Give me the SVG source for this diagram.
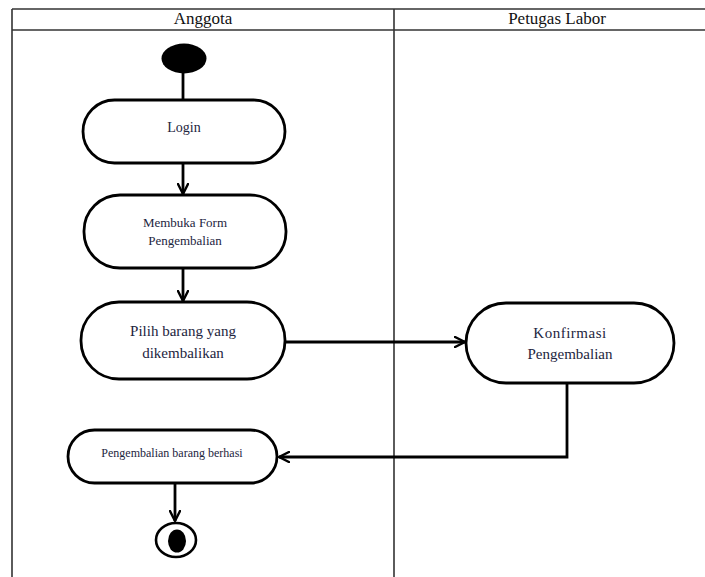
<svg xmlns="http://www.w3.org/2000/svg" width="705" height="577" viewBox="0 0 705 577">
  <defs>
    <marker id="open-arrow" viewBox="0 0 12 12" refX="11" refY="6" markerWidth="12" markerHeight="12" markerUnits="userSpaceOnUse" orient="auto">
      <path d="M1,1 L11,6 L1,11" fill="none" stroke="#000" stroke-width="2.4" stroke-linecap="round" stroke-linejoin="round"/>
    </marker>
  </defs>
  <style>
    .frame { stroke: #333; stroke-width: 1.6; fill: none; }
    .lane-title { font-family: "Liberation Serif", "Times New Roman", serif; font-size: 17px; fill: #111; text-anchor: middle; }
    .action { fill: #fff; stroke: #000; stroke-width: 2.8; }
    .label { font-family: "Liberation Serif", "Times New Roman", serif; fill: #1d2540; text-anchor: middle; }
    .flow { fill: none; stroke: #000; stroke-width: 2.8; }
  </style>

  <rect width="705" height="577" fill="#fff"/>

  <!-- swimlane frame -->
  <g id="swimlanes">
    <line class="frame" x1="12" y1="9" x2="705" y2="9"/>
    <line class="frame" x1="12" y1="30" x2="705" y2="30"/>
    <line class="frame" x1="12" y1="9" x2="12" y2="577"/>
    <line class="frame" x1="394" y1="9" x2="394" y2="577"/>
    <text class="lane-title" x="203" y="24">Anggota</text>
    <text class="lane-title" x="557" y="24">Petugas Labor</text>
  </g>

  <!-- control flow -->
  <g id="connectors">
    <line class="flow" x1="183" y1="72" x2="183" y2="100"/>
    <line class="flow" x1="183" y1="164" x2="183" y2="194" marker-end="url(#open-arrow)"/>
    <line class="flow" x1="183" y1="269" x2="183" y2="301" marker-end="url(#open-arrow)"/>
    <line class="flow" x1="286" y1="342" x2="465" y2="342" marker-end="url(#open-arrow)"/>
    <polyline class="flow" points="567,383 567,457 279,457" marker-end="url(#open-arrow)"/>
    <line class="flow" x1="175" y1="483" x2="175" y2="521" marker-end="url(#open-arrow)"/>
  </g>

  <g id="start">
    <ellipse cx="184" cy="58.5" rx="22.5" ry="15" fill="#000"/>
  </g>

  <g id="login">
    <rect class="action" x="83" y="100" width="202" height="63" rx="31.5"/>
    <text class="label" x="184" y="132" font-size="14">Login</text>
  </g>

  <g id="membuka-form">
    <rect class="action" x="84" y="195" width="202" height="73" rx="36"/>
    <text class="label" x="185" y="227" font-size="13">Membuka Form</text>
    <text class="label" x="185" y="245" font-size="13">Pengembalian</text>
  </g>

  <g id="pilih-barang">
    <rect class="action" x="81" y="302" width="204" height="77" rx="38"/>
    <text class="label" x="183" y="336" font-size="15">Pilih barang yang</text>
    <text class="label" x="183" y="358" font-size="15">dikembalikan</text>
  </g>

  <g id="konfirmasi">
    <rect class="action" x="466" y="303" width="208" height="80" rx="40"/>
    <text class="label" x="570" y="338" font-size="15" letter-spacing="0.5">Konfirmasi</text>
    <text class="label" x="570" y="359" font-size="15">Pengembalian</text>
  </g>

  <g id="berhasil">
    <rect class="action" x="68" y="430" width="209" height="53" rx="26.5"/>
    <text class="label" x="172" y="457" font-size="12">Pengembalian barang berhasi</text>
  </g>

  <g id="end">
    <ellipse cx="176" cy="540" rx="20" ry="17" fill="#fff" stroke="#000" stroke-width="2.6"/>
    <ellipse cx="177" cy="541" rx="9" ry="11.5" fill="#000"/>
  </g>
</svg>
